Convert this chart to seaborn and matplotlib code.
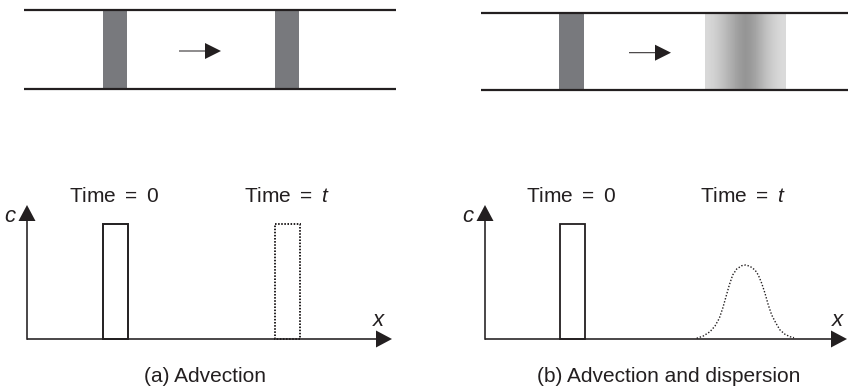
import numpy as np
import matplotlib
matplotlib.use("Agg")
import matplotlib.pyplot as plt
import seaborn as sns
from matplotlib.patches import Rectangle

# tube outlines (pixel coordinates of the figure)
PIPE_A_X = [24, 396]
PIPE_A_Y = [10, 88.5]
PIPE_B_X = [481, 848]
PIPE_B_Y = [13, 90]

# solid tracer bands in the tubes (left edge, right edge)
BANDS_A = [(103, 127), (275, 299)]
BANDS_B = [(559, 584)]

# dispersed band: gray levels read across its width
SPREAD_X = [705, 786]
SPREAD_LEVELS = [216, 210, 201, 190, 178, 166, 155, 149, 154, 166, 180, 194, 205, 213, 218]

# concentration profiles
PULSE_A = [(103, 128), (275, 300)]
PULSE_B = [(560, 585)]
PULSE_TOP = 224
BASE_Y = 339

GAUSS_X = [696.7, 703.3, 710, 715, 719.3, 722.7, 726, 729.3, 732.7, 736.7, 741.7, 745.7,
           750, 755, 758.3, 761.7, 765, 768.3, 771.7, 776, 780, 785, 790, 794]
GAUSS_Y = [338.3, 336, 331.7, 326, 318.3, 308.3, 296.7, 285, 275, 269, 265.7, 265,
           266.3, 270, 275, 283.3, 293.3, 305, 315, 323.3, 330, 334.3, 336.7, 337.7]

INK = "#231f20"
BAND = "#78797d"

sns.set_theme(style="white")
plt.rcParams.update({
    "font.family": ["Liberation Sans", "DejaVu Sans"],
    "mathtext.fontset": "custom",
    "mathtext.it": "Liberation Sans:italic",
    "mathtext.rm": "Liberation Sans",
})

fig = plt.figure(figsize=(8.48, 3.91), dpi=100)
ax = fig.add_axes([0, 0, 1, 1])
ax.set_axis_off()

# tubes
for xs, ys in [(PIPE_A_X, PIPE_A_Y), (PIPE_B_X, PIPE_B_Y)]:
    for y in ys:
        ax.plot(xs, [y, y], color=INK, lw=1.6, solid_capstyle="butt", zorder=3)

for (x0, x1), ys in [(b, PIPE_A_Y) for b in BANDS_A] + [(b, PIPE_B_Y) for b in BANDS_B]:
    ax.add_patch(Rectangle((x0, ys[0]), x1 - x0, ys[1] - ys[0], color=BAND, lw=0, zorder=2))

ax.imshow(np.array([SPREAD_LEVELS]), extent=[SPREAD_X[0], SPREAD_X[1], PIPE_B_Y[1], PIPE_B_Y[0]],
          cmap="gray", vmin=0, vmax=255, interpolation="bilinear", aspect="auto", zorder=2)

# flow arrows
for x0, x1, y in [(179, 221, 51), (629, 671, 52.7)]:
    ax.arrow(x0, y, x1 - x0, 0, width=1.0, head_width=16, head_length=16,
             length_includes_head=True, color=INK, lw=0, zorder=4)

# concentration axes
for x0, x1 in [(27, 392), (485, 847)]:
    ax.arrow(x0, BASE_Y, x1 - x0, 0, width=1.6, head_width=17, head_length=16,
             length_includes_head=True, color=INK, lw=0, zorder=4)
    ax.arrow(x0, BASE_Y + 0.8, 0, 205 - BASE_Y - 0.8, width=1.6, head_width=17, head_length=16,
             length_includes_head=True, color=INK, lw=0, zorder=4)

for i, (x0, x1) in enumerate(PULSE_A):
    ls = "-" if i == 0 else (0, (0.8, 0.8))
    ax.add_patch(Rectangle((x0, PULSE_TOP), x1 - x0, BASE_Y - PULSE_TOP, fill=False,
                           edgecolor=INK, lw=1.4, linestyle=ls, zorder=3))
for x0, x1 in PULSE_B:
    ax.add_patch(Rectangle((x0, PULSE_TOP), x1 - x0, BASE_Y - PULSE_TOP, fill=False,
                           edgecolor=INK, lw=1.3, zorder=3))

sns.lineplot(x=GAUSS_X, y=GAUSS_Y, ax=ax, color=INK, lw=1.0, linestyle=(0, (1, 1.3)),
             sort=False, zorder=3)

# labels
for x in [10, 468]:
    ax.text(x, 217, "c", fontsize=16, style="italic", ha="center", va="center", color=INK)
for x in [378, 837]:
    ax.text(x, 321, "x", fontsize=16, style="italic", ha="center", va="center", color=INK)
for x, s in [(114, "Time $=$ 0"), (286.5, "Time $=$ $t$"), (571.5, "Time $=$ 0"), (743, "Time $=$ $t$")]:
    ax.text(x, 197, s, fontsize=15, ha="center", va="center", color=INK)
ax.text(205, 376, "(a) Advection", fontsize=15, ha="center", va="center", color=INK)
ax.text(669, 376, "(b) Advection and dispersion", fontsize=15, ha="center", va="center", color=INK)

ax.set_xlim(0, 848)
ax.set_ylim(391, 0)
fig.savefig("out.png", dpi=100)
